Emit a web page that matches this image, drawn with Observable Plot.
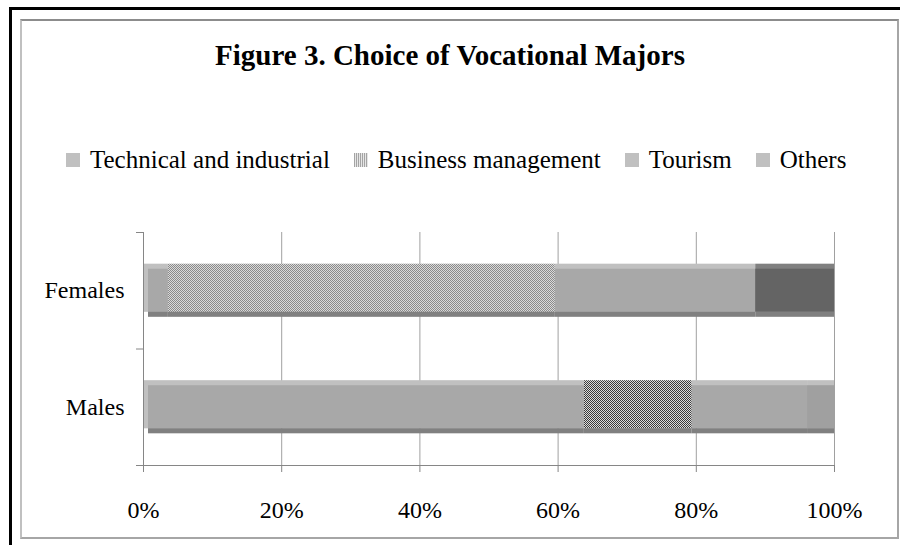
<!DOCTYPE html>
<html><head><meta charset="utf-8">
<script src="https://cdn.jsdelivr.net/npm/d3@7"></script>
<script src="https://cdn.jsdelivr.net/npm/@observablehq/plot@0.6"></script>
<style>
html,body{margin:0;padding:0;background:#fff;}
body{width:900px;height:545px;position:relative;overflow:hidden;font-family:"Liberation Serif","Times New Roman",serif;color:#000;}
#outer{position:absolute;left:9px;top:7px;width:900px;height:545px;border-top:3px solid #000;border-left:3px solid #000;}
#inner{position:absolute;left:20px;top:19px;width:875px;height:516px;border:2px solid #a6a6a6;border-left-color:#c0c0c0;border-top-color:#8c8c8c;}
#title{position:absolute;left:0;top:38px;width:900px;text-align:center;font-weight:bold;font-size:29px;line-height:34px;}
#legend{position:absolute;left:66px;top:145px;display:flex;align-items:center;font-size:25px;line-height:30px;white-space:nowrap;}
.item{display:flex;align-items:center;margin-right:24px;}
.sw{width:14px;height:14px;margin-right:10px;display:block;}
#chart{position:absolute;left:0;top:200px;}
</style></head>
<body>
<svg width="0" height="0" style="position:absolute">
  <defs>
    <pattern id="chkF" patternUnits="userSpaceOnUse" width="2" height="2">
      <rect width="2" height="2" fill="#dadada"/>
      <rect width="1" height="1" fill="#8a8a8a"/>
      <rect x="1" y="1" width="1" height="1" fill="#8a8a8a"/>
    </pattern>
    <pattern id="chkM" patternUnits="userSpaceOnUse" width="2" height="2">
      <rect width="2" height="2" fill="#dcdcdc"/>
      <rect width="1" height="1" fill="#3a3a3a"/>
      <rect x="1" y="1" width="1" height="1" fill="#3a3a3a"/>
    </pattern>
    <pattern id="legStripes" patternUnits="userSpaceOnUse" width="2" height="2">
      <rect width="2" height="2" fill="#e6e6e6"/>
      <rect width="1" height="2" fill="#a4a4a4"/>
    </pattern>
  </defs>
</svg>
<div id="outer"></div>
<div id="inner"></div>
<div id="title"></div>
<div id="legend"></div>
<div id="chart"></div>
<script>
// ---- data ----
const title = "Figure 3. Choice of Vocational Majors";
const groups = ["Females", "Males"];
const majors = ["Technical and industrial", "Business management", "Tourism", "Others"];
const females = [3.6, 56.0, 29.0, 11.4];
const males = [63.8, 15.6, 16.7, 3.9];
const xTicks = [0, 20, 40, 60, 80, 100];

// ---- styles ----
const legendFill = ["#c0c0c0", "url(#legStripes)", "#c0c0c0", "#c0c0c0"];
const topFill = {
  Females: ["#c0c0c0", "url(#chkF)", "#c0c0c0", "#808080"],
  Males: ["#c0c0c0", "url(#chkM)", "#c0c0c0", "#c0c0c0"]
};
const mainFill = {
  Females: ["#a8a8a8", "url(#chkF)", "#a8a8a8", "#646464"],
  Males: ["#a8a8a8", "url(#chkM)", "#a8a8a8", "#a0a0a0"]
};
const half = 0.228; // half bar thickness in band units
const axisGray = "#868686";

// ---- build segments ----
const series = {Females: females, Males: males};
const segs = groups.flatMap((g, gi) => {
  const vals = series[g];
  const ends = d3.cumsum(vals);
  return majors.map((m, i) => ({
    group: g, gi, major: m, i, value: vals[i],
    x1: ends[i] - vals[i], x2: ends[i],
    top: topFill[g][i], main: mainFill[g][i]
  }));
});
const first = segs.filter(d => d.i === 0);
const rest = segs.filter(d => d.i > 0);
const band = {x1: "x1", x2: "x2", y1: d => d.gi + 0.5 - half, y2: d => d.gi + 0.5 + half};

// ---- title & legend ----
d3.select("#title").text(title);
const items = d3.select("#legend").selectAll(".item").data(majors).join("div").attr("class", "item");
items.append("svg").attr("class", "sw").attr("width", 14).attr("height", 14)
  .append("rect").attr("width", 14).attr("height", 14).attr("fill", (d, i) => legendFill[i]);
items.append("span").text(d => d);

// ---- chart ----
const chart = Plot.plot({
  width: 900, height: 345,
  marginTop: 32, marginBottom: 80, marginLeft: 143, marginRight: 66,
  style: {fontFamily: "'Liberation Serif', 'Times New Roman', serif", fontSize: "24px", color: "#000", background: "transparent", overflow: "visible"},
  x: {domain: [0, 100]},
  y: {domain: [0, groups.length], reverse: true},
  color: {type: "identity"},
  marks: [
    Plot.ruleX(xTicks.slice(1), {stroke: "#a0a0a0"}),
    Plot.rect(segs, {...band, fill: "top", insetBottom: 5}),
    Plot.rect(rest, {...band, fill: "main", insetTop: 5, insetBottom: 5}),
    Plot.rect(first, {...band, fill: "main", insetTop: 5, insetBottom: 5, insetLeft: 5}),
    Plot.rect(rest, {...band, fill: "#808080", insetTop: 48}),
    Plot.rect(first, {...band, fill: "#808080", insetTop: 48, insetLeft: 5}),
    Plot.ruleX([0], {stroke: axisGray}),
    Plot.ruleY([groups.length], {x1: -1, x2: 100, stroke: axisGray}),
    Plot.axisX(xTicks, {tickSize: 7, tickPadding: 28, tickFormat: d => d + "%", stroke: axisGray, label: null}),
    Plot.axisY(d3.range(groups.length + 1), {tickSize: 7, tickFormat: () => "", stroke: axisGray, label: null}),
    Plot.axisY(groups.map((g, i) => i + 0.5), {tickSize: 0, tickPadding: 19, tickFormat: d => groups[Math.floor(d)], label: null})
  ]
});
document.getElementById("chart").append(chart);
</script>
</body></html>
